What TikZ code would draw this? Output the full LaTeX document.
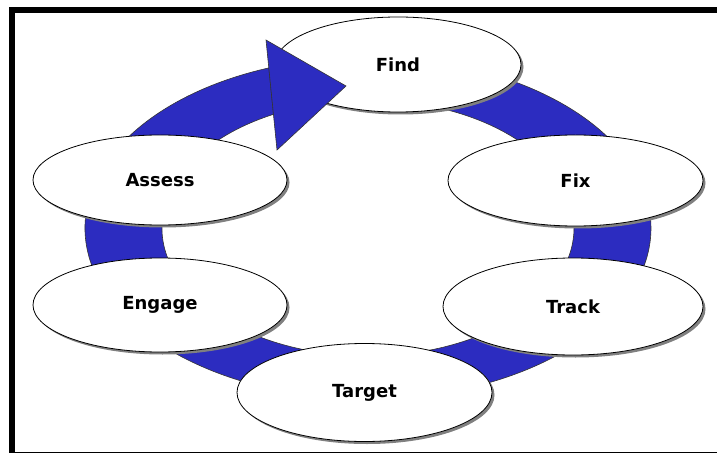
\documentclass[tikz,border=0pt]{standalone}
\usepackage{fontspec}
\usepackage{tikz}
\usepackage{xcolor}
\usetikzlibrary{shapes.geometric,shadows}
\newfontfamily\stagefont{DejaVu Sans}
\definecolor{ringblue}{RGB}{44,44,192}
\tikzset{stage/.style={ellipse,draw=black,line width=0.8pt,fill=white,inner sep=0pt,
  drop shadow={shadow xshift=2.5pt,shadow yshift=-2.5pt,fill=black!50,opacity=1},
  font=\stagefont\bfseries\fontsize{18}{21}\selectfont}}

\begin{document}
\begin{tikzpicture}[x=1pt,y=1pt]
\useasboundingbox (0,0) rectangle (717,453);
\fill[color=black] (9,440) rectangle (717,446);
\fill[color=black] (9,0) rectangle (15,446);
\fill[color=black] (9,0) rectangle (717,1.5);
\filldraw[draw=black!80,fill=ringblue,line width=0.6pt] (343.3,395.3) arc[start angle=95,end angle=-249.5,x radius=283,y radius=171] -- (273.5,338.7) arc[start angle=-242.7,end angle=95,x radius=206,y radius=128] -- cycle;
\node[stage,minimum width=246,minimum height=95] (find) at (398,388.5) {Find};
\node[stage,minimum width=255,minimum height=91] (fix) at (575.5,272.5) {Fix};
\node[stage,minimum width=260,minimum height=97] (track) at (573,146.5) {Track};
\node[stage,minimum width=255,minimum height=98] (target) at (364.5,60.5) {Target};
\node[stage,minimum width=254,minimum height=94] (engage) at (160,148) {Engage};
\node[stage,minimum width=254,minimum height=90] (assess) at (160,273) {Assess};
\filldraw[draw=black!80,fill=ringblue,line width=0.6pt] (266,413) -- (346,367) -- (277,303) -- cycle;
\end{tikzpicture}
\end{document}
